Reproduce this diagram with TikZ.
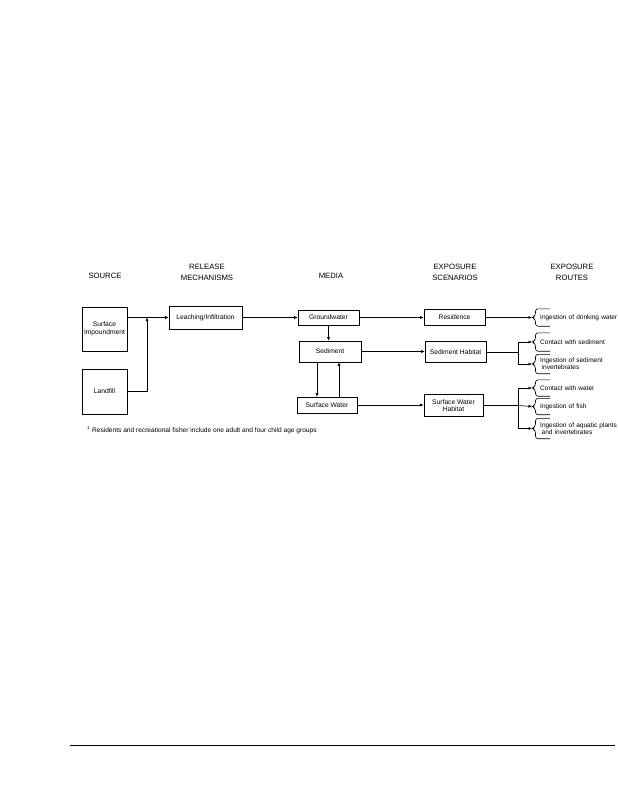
\documentclass[tikz,border=0pt]{standalone}
\usepackage{fontspec}
\setmainfont{Liberation Sans}
\usetikzlibrary{arrows.meta,calc}
\begin{document}
\begin{tikzpicture}[x=1pt,y=-1pt,
  every node/.style={inner sep=0pt},
  boxn/.style={draw,line width=0.6pt,align=center,font=\fontsize{6.7}{7.6}\selectfont},
  hdr/.style={align=center,font=\fontsize{7.7}{11}\selectfont},
  routen/.style={anchor=west,align=left,text width=80pt,inner xsep=8pt,font=\fontsize{6.5}{7.3}\selectfont},
  arr/.style={line width=0.6pt,-{Latex[length=3.5pt,width=3pt]}},
  ln/.style={line width=0.6pt},
  bracen/.style={line width=0.6pt,rounded corners=2.5pt}]
\useasboundingbox (0,0) rectangle (618,800);
\fill[white] (0,0) rectangle (618,800);
% headers
\node[hdr] (hsrc) at (105,276) {SOURCE};
\node[hdr] (hrel) at (207,272.5) {RELEASE\\MECHANISMS};
\node[hdr] (hmed) at (331,276) {MEDIA};
\node[hdr] (hsce) at (455,272.5) {EXPOSURE\\SCENARIOS};
\node[hdr] (hrou) at (572,272.5) {EXPOSURE\\ROUTES};
% boxes
\node[boxn,minimum width=45pt,minimum height=44pt] (si) at (104.5,329) {Surface\\Impoundment};
\node[boxn,minimum width=45pt,minimum height=45pt] (lf) at (104.5,391.5) {Landfill};
\node[boxn,minimum width=73pt,minimum height=23pt] (leach) at (205.5,317.5) {Leaching/Infiltration};
\node[boxn,minimum width=61pt,minimum height=15pt] (gw) at (328.5,317.5) {Groundwater};
\node[boxn,minimum width=62pt,minimum height=21pt] (sed) at (330,351.5) {Sediment};
\node[boxn,minimum width=60pt,minimum height=16pt] (sw) at (327,405) {Surface Water};
\node[boxn,minimum width=61pt,minimum height=16pt] (res) at (454.5,317.5) {Residence};
\node[boxn,minimum width=61pt,minimum height=21pt] (sh) at (455.5,352) {Sediment Habitat};
\node[boxn,minimum width=59pt,minimum height=22pt] (swh) at (453.5,405.5) {Surface Water\\Habitat};
% routes
\node[routen,minimum height=17pt] (r1) at (532,317.5) {Ingestion of drinking water};
\node[routen,minimum height=18pt] (r2) at (532,342) {Contact with sediment};
\node[routen,minimum height=19pt] (r3) at (532,364) {Ingestion of sediment\\\hspace{1.5pt}invertebrates};
\node[routen,minimum height=16pt] (r4) at (532,388) {Contact with water};
\node[routen,minimum height=16pt] (r5) at (532,406.5) {Ingestion of fish};
\node[routen,minimum height=20pt] (r6) at (532,428.5) {Ingestion of aquatic plants\\\hspace{1.5pt}and invertebrates};
\foreach \r in {r1,r2,r3,r4,r5,r6}{
  \draw[bracen] ($(\r.north west)+(18,0)$) -- ($(\r.north west)+(3.5,0)$) -- ($(\r.west)+(3.5,-2)$) -- (\r.west) -- ($(\r.west)+(3.5,2)$) -- ($(\r.south west)+(3.5,0)$) -- ($(\r.south west)+(18,0)$);
}
% footnote
\node[anchor=west,font=\fontsize{6.6}{7.5}\selectfont] (fn) at (87,430) {\textsuperscript{1} Residents and recreational fisher include one adult and four child age groups};
% connectors
\coordinate (j1) at (147,317.5);
\draw[arr] (si.east |- leach.west) -- (leach.west);
\draw[arr] (lf.east) -| (j1);
\draw[arr] (leach.east) -- (gw.west);
\draw[arr] (gw.south) -- (gw.south |- sed.north);
\draw[arr] ([xshift=-13pt]sed.south) -- ([xshift=-13pt]sed.south |- sw.north);
\draw[arr] ([xshift=9pt]sed.south |- sw.north) -- ([xshift=9pt]sed.south);
\draw[arr] (gw.east) -- (gw.east -| res.west);
\draw[arr] (sed.east) -- (sed.east -| sh.west);
\draw[arr] (sw.east) -- (sw.east -| swh.west);
\draw[arr] (res.east) -- (res.east -| r1.west);
\coordinate (j2) at (518,352);
\coordinate (j3) at (518,405.5);
\draw[ln] (sh.east) -- (j2);
\draw[arr] (j2) |- (r2.west);
\draw[arr] (j2) |- (r3.west);
\draw[ln] (swh.east) -- (j3);
\draw[arr] (j3) |- (r4.west);
\draw[arr] (j3) -- (r5.west);
\draw[arr] (j3) |- (r6.west);
% bottom rule
\coordinate (b1) at (70,745.5);
\coordinate (b2) at (615,745.5);
\draw[line width=1pt] (b1) -- (b2);
\end{tikzpicture}
\end{document}
